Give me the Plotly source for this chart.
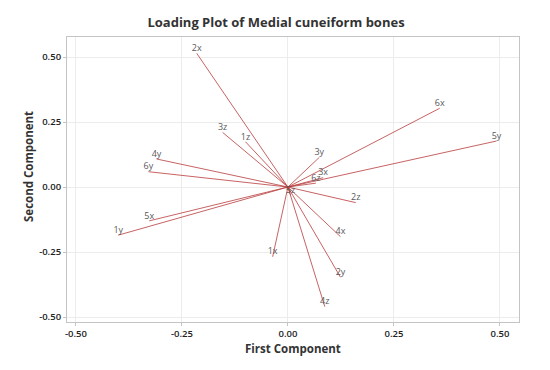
import plotly.graph_objects as go

variables = ["1x", "1y", "1z", "2x", "2y", "2z", "3x", "3y", "3z",
             "4x", "4y", "4z", "5x", "5y", "5z", "6x", "6y", "6z"]
first_comp = [-0.036, -0.400, -0.100, -0.215, 0.124, 0.160, 0.083, 0.074, -0.154,
              0.124, -0.310, 0.087, -0.327, 0.492, 0.006, 0.358, -0.329, 0.066]
second_comp = [-0.268, -0.185, 0.174, 0.514, -0.347, -0.060, 0.036, 0.114, 0.210,
               -0.191, 0.108, -0.460, -0.130, 0.177, -0.030, 0.303, 0.059, 0.015]
tick_vals = [-0.50, -0.25, 0.00, 0.25, 0.50]
tick_text = ["-0.50", "-0.25", "0.00", "0.25", "0.50"]
x_title = "First Component"
y_title = "Second Component"
chart_title = "Loading Plot of Medial cuneiform bones"

fig = go.Figure()
for name, x, y in zip(variables, first_comp, second_comp):
    fig.add_trace(go.Scatter(x=[0, x], y=[0, y], mode="lines",
                             line=dict(color="rgba(185,60,60,0.8)", width=1),
                             hoverinfo="skip", showlegend=False))
fig.add_trace(go.Scatter(x=first_comp, y=second_comp, mode="text", text=variables,
                         textposition="top center",
                         textfont=dict(family="Open Sans", size=9, color="#595959"),
                         hoverinfo="skip", showlegend=False))

axis_common = dict(
    tickvals=tick_vals, ticktext=tick_text, automargin=False,
    showgrid=True, gridcolor="#ececec", gridwidth=1,
    zeroline=False, showline=True, linecolor="#c4c4c4", linewidth=1, mirror=True,
    ticks="outside", ticklen=3, tickcolor="#c4c4c4",
    tickfont=dict(family="Open Sans", size=9.5, color="#222222", weight=600),
)
fig.update_xaxes(range=[-0.521, 0.545], **axis_common)
fig.update_yaxes(range=[-0.519, 0.577], **axis_common)

title_font = dict(family="Open Sans", size=11.5, color="#333333", weight="bold")
fig.add_annotation(text=x_title, xref="paper", yref="paper", x=0.5, y=-0.092,
                   xanchor="center", yanchor="middle", showarrow=False, font=title_font)
fig.add_annotation(text=y_title, xref="paper", yref="paper", x=-0.084, y=0.544,
                   xanchor="center", yanchor="middle", textangle=-90,
                   showarrow=False, font=title_font)

# page body adds an 8px offset, so the figure is drawn 8px smaller
fig.update_layout(
    width=542, height=362,
    margin=dict(l=59, r=31, t=29, b=48),
    paper_bgcolor="white", plot_bgcolor="white",
    title=dict(text=chart_title, x=0.4945, xanchor="center",
               y=0.961, yanchor="middle",
               font=dict(family="Open Sans", size=13, color="#333333", weight="bold")),
)
fig.write_html("out.html")
